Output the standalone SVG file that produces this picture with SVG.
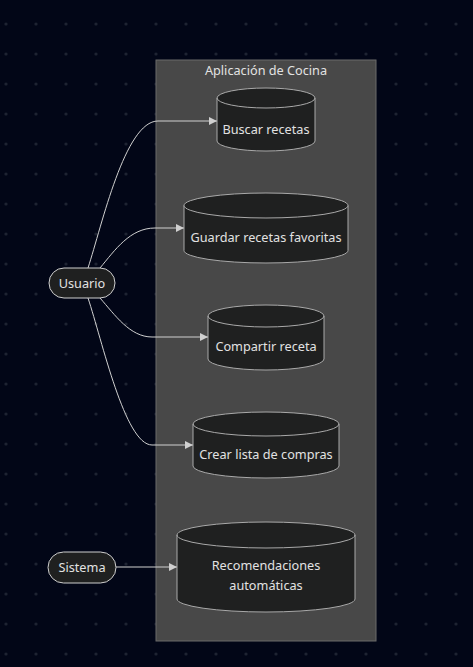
<svg xmlns="http://www.w3.org/2000/svg" width="473" height="667" viewBox="0 0 473 667">
<style>
.t{font-family:"Noto Sans","DejaVu Sans",sans-serif;font-size:12.7px;fill:#e2e2e2;text-anchor:middle;dominant-baseline:central}
.cyl{fill:#1f2020;stroke:#a9a9a9;stroke-width:1}
.stad{fill:#1f2020;stroke:#cfcfcf;stroke-width:1}
.edge{fill:none;stroke:#d0d0d0;stroke-width:1}
</style>
<defs>
<pattern id="dots" x="6" y="24" width="30" height="30" patternUnits="userSpaceOnUse">
<circle cx="0" cy="0" r="1.6" fill="#1e2332"/><circle cx="30" cy="0" r="1.6" fill="#1e2332"/><circle cx="0" cy="30" r="1.6" fill="#1e2332"/><circle cx="30" cy="30" r="1.6" fill="#1e2332"/>
</pattern>
<marker id="arr" viewBox="0 0 10 10" refX="10" refY="5" markerWidth="8" markerHeight="8" orient="auto" markerUnits="userSpaceOnUse">
<path d="M0,0 L10,5 L0,10 z" fill="#d0d0d0"/>
</marker>
</defs>
<rect width="473" height="667" fill="#020617"/>
<rect width="473" height="667" fill="url(#dots)"/>
<g id="cluster">
<rect x="156" y="60" width="220" height="581" fill="#484848" stroke="#6a6a6a" stroke-width="1"/>
<text class="t" x="266" y="70">Aplicación de Cocina</text>
</g>
<g id="edges">
<path class="edge" marker-end="url(#arr)" d="M88,268 C102,225 125,121 158,121 L217,121"/>
<path class="edge" marker-end="url(#arr)" d="M100,268 C115,250 130,228 155,228 L184,228"/>
<path class="edge" marker-end="url(#arr)" d="M100,298 C115,315 130,337 152,337 L208,337"/>
<path class="edge" marker-end="url(#arr)" d="M88,298 C102,340 125,445 152,445 L193,445"/>
<path class="edge" marker-end="url(#arr)" d="M116,567 L177,567"/>
</g>
<g id="usuario">
<rect class="stad" x="49" y="268" width="66" height="30" rx="15"/>
<text class="t" x="82" y="282.5">Usuario</text>
</g>
<g id="sistema">
<rect class="stad" x="48" y="552" width="68" height="31" rx="15.5"/>
<text class="t" x="82" y="567">Sistema</text>
</g>
<g id="buscar">
<path class="cyl" d="M217,98 a49,10 0 0,0 98,0 a49,10 0 0,0 -98,0 l0,43 a49,10 0 0,0 98,0 l0,-43"/>
<text class="t" x="266" y="129">Buscar recetas</text>
</g>
<g id="guardar">
<path class="cyl" d="M184,205.5 a82,12.5 0 0,0 164,0 a82,12.5 0 0,0 -164,0 l0,45 a82,12.5 0 0,0 164,0 l0,-45"/>
<text class="t" x="266" y="237">Guardar recetas favoritas</text>
</g>
<g id="compartir">
<path class="cyl" d="M208,316 a58,11 0 0,0 116,0 a58,11 0 0,0 -116,0 l0,43 a58,11 0 0,0 116,0 l0,-43"/>
<text class="t" x="266" y="346">Compartir receta</text>
</g>
<g id="crear">
<path class="cyl" d="M193,424 a73,12 0 0,0 146,0 a73,12 0 0,0 -146,0 l0,42 a73,12 0 0,0 146,0 l0,-42"/>
<text class="t" x="266" y="454">Crear lista de compras</text>
</g>
<g id="recomendaciones">
<path class="cyl" d="M177,535 a89,13 0 0,0 178,0 a89,13 0 0,0 -178,0 l0,64 a89,13 0 0,0 178,0 l0,-64"/>
<text class="t" x="266" y="565">Recomendaciones</text>
<text class="t" x="266" y="585">automáticas</text>
</g>
</svg>
